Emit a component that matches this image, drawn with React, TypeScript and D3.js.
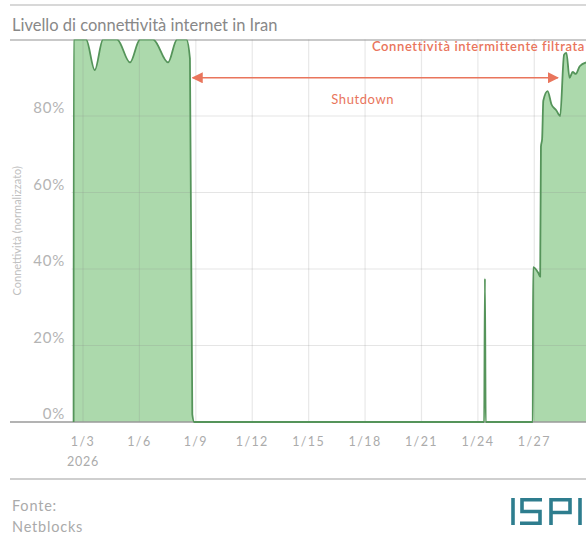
import React from "react";
import * as d3 from "d3";

const W = 586;
const H = 537;

// Connectivity series (time, % normalized)
const times: string[] = [
  "2026-01-02T12:00", "2026-01-02T12:10", "2026-01-03T04:00", "2026-01-03T15:00", "2026-01-04T01:30",
  "2026-01-04T19:30", "2026-01-05T12:00", "2026-01-06T00:45", "2026-01-06T17:30", "2026-01-07T12:30",
  "2026-01-08T00:00", "2026-01-08T12:00", "2026-01-08T16:30", "2026-01-08T19:30", "2026-01-08T22:00",
  "2026-01-24T08:00", "2026-01-24T09:00", "2026-01-24T10:00", "2026-01-26T22:00", "2026-01-26T22:30",
  "2026-01-27T05:00", "2026-01-27T07:30", "2026-01-27T08:30", "2026-01-27T10:00", "2026-01-27T11:30",
  "2026-01-27T17:00", "2026-01-27T22:00", "2026-01-28T04:00", "2026-01-28T09:00", "2026-01-28T14:00",
  "2026-01-28T17:00", "2026-01-28T21:00", "2026-01-29T01:00", "2026-01-29T05:00", "2026-01-29T10:00",
  "2026-01-29T18:00",
];
const values: number[] = [
  0, 100, 100, 92, 100,
  100, 94, 100, 100, 94,
  100, 100, 95, 2, 0,
  0, 37.5, 0, 0, 40.5,
  39, 38, 72, 74, 84,
  86.5, 83, 81.5, 80, 96,
  96.5, 90, 91.5, 91, 93,
  94,
];

const yTicks: number[] = [0, 20, 40, 60, 80];
const xTickDates: string[] = [
  "2026-01-03", "2026-01-06", "2026-01-09", "2026-01-12", "2026-01-15",
  "2026-01-18", "2026-01-21", "2026-01-24", "2026-01-27",
];

const title = "Livello di connettività internet in Iran";
const yLabel = "Connettività (normalizzato)";
const annotTop = "Connettività intermittente filtrata";
const annotShutdown = "Shutdown";
const arrowStart = "2026-01-08T20:00";
const arrowEnd = "2026-01-28T06:00";

const FONT = "Lato, 'Open Sans', sans-serif";

export default function App() {
  const parse = (s: string) => new Date(s);
  const data = times.map((t, i) => ({ t: parse(t), v: values[i] }));

  const left = 73.6;
  const right = 586;
  const top = 39.5;
  const bottom = 422;

  const x = d3
    .scaleTime()
    .domain([new Date("2026-01-02T12:00"), new Date("2026-01-29T18:00")])
    .range([left, right]);
  const y = d3.scaleLinear().domain([0, 100]).range([bottom, top]);

  const area = d3
    .area<{ t: Date; v: number }>()
    .x((d) => x(d.t))
    .y0(y(0))
    .y1((d) => y(d.v))
    .curve(d3.curveMonotoneX);
  const line = d3
    .line<{ t: Date; v: number }>()
    .x((d) => x(d.t))
    .y((d) => y(d.v))
    .curve(d3.curveMonotoneX);

  const fmt = d3.timeFormat("%-m/%-d");
  const ax1 = x(parse(arrowStart));
  const ax2 = x(parse(arrowEnd));
  const ay = y(90);
  const orange = "#e9755c";

  // ISPI logo geometry (decorative)
  const lx = 511;
  const ly = 498;
  const lh = 27;
  const sw = 3.6;
  const teal = "#2e7d8e";

  return (
    <svg width={W} height={H} style={{ position: "absolute", left: 0, top: 0, background: "#fff" }}>
      <defs>
        <clipPath id="plotclip">
          <rect x={0} y={top} width={W} height={bottom - top + 2} />
        </clipPath>
        <marker id="ah" viewBox="0 0 10 10" refX="9" refY="5" markerWidth="7" markerHeight="7" orient="auto-start-reverse">
          <path d="M0,0 L10,5 L0,10 z" fill={orange} />
        </marker>
      </defs>

      {/* frame lines */}
      <line x1={10} x2={W} y1={5} y2={5} stroke="#d8d8d8" strokeWidth={2} />
      <text x={12} y={31} fontFamily={FONT} fontSize={16.5} fill="#888888">{title}</text>
      <line x1={10} x2={W} y1={40} y2={40} stroke="#c9c9c9" strokeWidth={2} />
      <line x1={10} x2={W} y1={479} y2={479} stroke="#cfcfcf" strokeWidth={2} />

      {/* area */}
      <g clipPath="url(#plotclip)">
        <path d={area(data) || ""} fill="#acd9ac" />
      </g>

      {/* grid */}
      {yTicks.filter((t) => t > 0).map((t) => (
        <line key={"hg" + t} x1={left - 2} x2={W} y1={y(t)} y2={y(t)} stroke="#8a8a8a" strokeOpacity={0.22} strokeWidth={1.2} />
      ))}
      {xTickDates.map((d) => (
        <line key={"vg" + d} x1={x(parse(d))} x2={x(parse(d))} y1={top} y2={bottom} stroke="#8a8a8a" strokeOpacity={0.2} strokeWidth={1.2} />
      ))}

      {/* baseline */}
      <line x1={10} x2={W} y1={bottom} y2={bottom} stroke="#9a9a9a" strokeWidth={1.5} />

      <g clipPath="url(#plotclip)">
        <path d={line(data) || ""} fill="none" stroke="#55945a" strokeWidth={1.8} strokeLinejoin="round" />
      </g>

      {/* y tick labels */}
      {yTicks.map((t) => (
        <text key={"yl" + t} x={65} y={y(t) - 3} textAnchor="end" fontFamily={FONT} fontSize={15} letterSpacing={0.8} fill="#b4b4b4">
          {t}%
        </text>
      ))}
      <text
        transform={`translate(21, ${y(50)}) rotate(-90)`}
        textAnchor="middle"
        fontFamily={FONT}
        fontSize={11}
        fill="#c0c0c0"
      >
        {yLabel}
      </text>

      {/* x tick labels */}
      {xTickDates.map((d, i) => (
        <g key={"xl" + d}>
          <text x={x(parse(d))} y={446} textAnchor="middle" fontFamily={FONT} fontSize={12.5} letterSpacing={1.4} fill="#ababab">
            {fmt(parse(d))}
          </text>
          {i === 0 && (
            <text x={x(parse(d))} y={466} textAnchor="middle" fontFamily={FONT} fontSize={12.5} letterSpacing={0.8} fill="#ababab">
              2026
            </text>
          )}
        </g>
      ))}

      {/* annotations */}
      <text x={W - 1} y={51} textAnchor="end" fontFamily={FONT} fontSize={13} letterSpacing={0.6} fontWeight={600} fill={orange}>
        {annotTop}
      </text>
      <line x1={ax1} x2={ax2} y1={ay} y2={ay} stroke={orange} strokeWidth={1.6} markerStart="url(#ah)" markerEnd="url(#ah)" />
      <text x={x(parse("2026-01-17T21:00"))} y={104} textAnchor="middle" fontFamily={FONT} fontSize={13} letterSpacing={0.6} fill={orange}>
        {annotShutdown}
      </text>

      {/* footer */}
      <text x={12} y={511} fontFamily={FONT} fontSize={14.5} letterSpacing={0.8} fill="#aaaaaa">Fonte:</text>
      <text x={12} y={532} fontFamily={FONT} fontSize={14.5} letterSpacing={0.8} fill="#aaaaaa">Netblocks</text>

      <g fill="none" stroke={teal} strokeWidth={sw} strokeLinecap="butt" strokeLinejoin="miter">
        <line x1={lx + 2} x2={lx + 2} y1={ly} y2={ly + lh} />
        <polyline points={`${lx + 31},${ly + 1.8} ${lx + 11},${ly + 1.8} ${lx + 11},${ly + lh / 2} ${lx + 29},${ly + lh / 2} ${lx + 29},${ly + lh - 1.8} ${lx + 9},${ly + lh - 1.8}`} />
        <polyline points={`${lx + 40},${ly + lh} ${lx + 40},${ly + 1.8} ${lx + 59},${ly + 1.8} ${lx + 59},${ly + lh / 2 + 1} ${lx + 40},${ly + lh / 2 + 1}`} />
        <line x1={lx + 69} x2={lx + 69} y1={ly} y2={ly + lh} />
      </g>
    </svg>
  );
}
